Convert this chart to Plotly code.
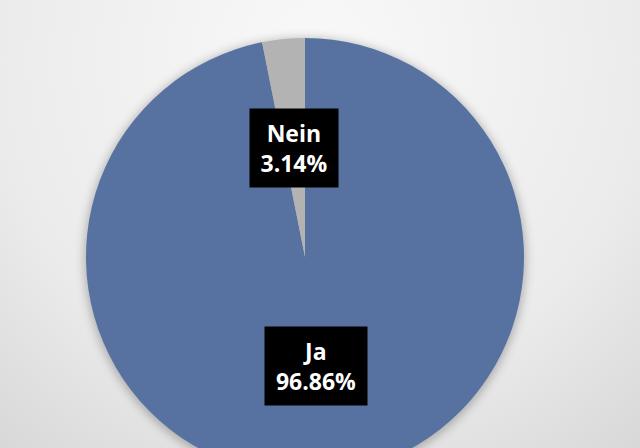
import math
import urllib.parse
import plotly.graph_objects as go

labels = ["Ja", "Nein"]
values = [96.86, 3.14]
colors = ["#5772a0", "#b3b3b3"]

W, H = 640, 480
cx, cy, R = 305, 257, 219  # pie centre / radius in pixels

svg = (
    "<svg xmlns='http://www.w3.org/2000/svg' width='640' height='480' viewBox='0 0 640 480'>"
    "<defs><radialGradient id='g' gradientUnits='userSpaceOnUse' cx='320' cy='60' r='520'>"
    "<stop offset='0' stop-color='#f9f9f9'/><stop offset='0.63' stop-color='#ebebeb'/>"
    "<stop offset='1' stop-color='#d6d6d6'/></radialGradient>"
    "<filter id='b' x='-20%' y='-20%' width='140%' height='140%'><feGaussianBlur stdDeviation='5'/></filter></defs>"
    "<rect width='640' height='480' fill='url(#g)'/>"
    "<circle cx='305' cy='259' r='221' fill='rgba(0,0,0,0.25)' filter='url(#b)'/>"
    "</svg>"
)
bg_uri = "data:image/svg+xml;charset=utf-8," + urllib.parse.quote(svg)

fig = go.Figure(go.Pie(
    labels=labels, values=values, sort=False, direction="clockwise", rotation=0,
    marker=dict(colors=colors, line=dict(width=0)),
    textinfo="none", showlegend=False,
    domain=dict(x=[(cx - R) / W, (cx + R) / W], y=[1 - (cy + R) / H, 1 - (cy - R) / H]),
))

# label boxes at half radius along each slice bisector (derived from data),
# slices run clockwise from 12 o'clock
total = sum(values)
start = 90.0
box_w = {"Nein": 86, "Ja": 100}
for lab, v in zip(labels, values):
    span = v / total * 360
    mid = math.radians(start - span / 2)
    start -= span
    px = cx + 0.5 * R * math.cos(mid)
    py = cy - 0.5 * R * math.sin(mid)
    fig.add_annotation(
        x=px / W, y=1 - py / H, xref="paper", yref="paper", showarrow=False,
        xanchor="center", yanchor="middle",
        text=f"<b>{lab}</b><br><b>{v:.2f}%</b>",
        font=dict(family="Open Sans", size=23, color="white"),
        bgcolor="black", width=box_w[lab], height=76, align="center", valign="middle",
    )

fig.update_layout(
    width=W, height=H, margin=dict(l=0, r=0, t=0, b=0),
    paper_bgcolor="#e8e8e8", plot_bgcolor="rgba(0,0,0,0)",
    images=[dict(source=bg_uri, xref="paper", yref="paper", x=0, y=1, sizex=1, sizey=1,
                 sizing="stretch", layer="below", xanchor="left", yanchor="top")],
)

fig.write_html("out.html", config={"displayModeBar": False},
               post_script="document.body.style.margin='0';document.body.style.overflow='hidden';")
